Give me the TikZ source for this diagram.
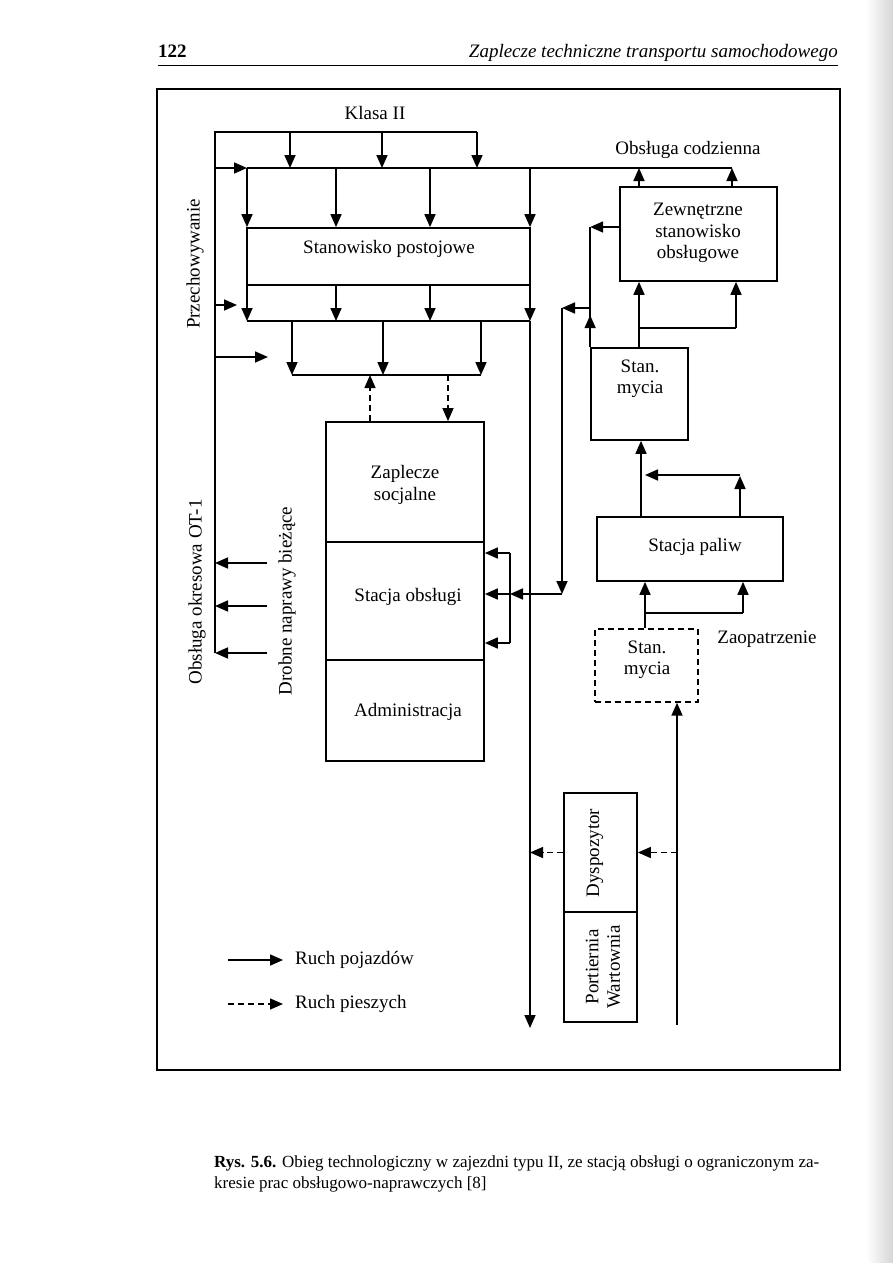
\documentclass[tikz,border=0pt]{standalone}
\usepackage{fontspec}
\setmainfont{Liberation Serif}
\usetikzlibrary{arrows.meta,positioning}

\tikzset{
  ln/.style={line width=1.7pt},
  box/.style={draw, line width=1.7pt, inner sep=0pt},
  dbox/.style={box, line width=1.4pt, dash pattern=on 6pt off 4pt},
  txt/.style={font=\fontsize{19}{21.5}\selectfont, align=center, inner sep=0pt},
  arr/.style={line width=1.7pt, -{Triangle[length=13pt,width=11pt]}},
  darr/.style={arr, line width=1.4pt, dash pattern=on 6pt off 4pt},
}

\begin{document}
\begin{tikzpicture}[x=1pt, y=-1pt]
  \useasboundingbox (0,0) rectangle (893,1263);
  \shade[left color=white, right color=black!16] (866,0) rectangle (893,1263);

  % page head
  \node[txt, anchor=base west, font=\fontsize{19}{21}\selectfont\bfseries] (pnum) at (158,57) {122};
  \node[txt, anchor=base east, font=\fontsize{19}{21}\selectfont\itshape] (ptitle) at (838,57) {Zaplecze techniczne transportu samochodowego};
  \coordinate (headL) at (158,66);
  \draw[line width=1pt] (headL) -- (headL -| ptitle.east);
  \draw[line width=1.8pt] (157,89) rectangle (840,1070);

  % boxes
  \node[box, minimum width=283, minimum height=57] (postoj) at (388.5,256.5) {};
  \node[txt] (postojT) at (389,249) {Stanowisko postojowe};
  \node[box, minimum width=158, minimum height=120] (socj) at (405,482) {};
  \node[txt] (socjT) at (405,485) {Zaplecze\\socjalne};
  \node[box, minimum width=158, minimum height=118] (obsl) at (405,601) {};
  \node[txt] (obslT) at (408,597) {Stacja obsługi};
  \node[box, minimum width=158, minimum height=101] (admin) at (405,710.5) {};
  \node[txt] (adminT) at (408,712) {Administracja};
  \node[box, minimum width=157, minimum height=94] (zewn) at (698.5,234) {};
  \node[txt] (zewnT) at (698,233) {Zewnętrzne\\stanowisko\\obsługowe};
  \node[box, minimum width=97, minimum height=92] (myciaA) at (639.5,394) {};
  \node[txt] (myciaAT) at (640,379) {Stan.\\mycia};
  \node[box, minimum width=186, minimum height=64] (paliw) at (690,549) {};
  \node[txt] (paliwT) at (695,547) {Stacja paliw};
  \node[dbox, minimum width=103, minimum height=73] (myciaB) at (646.5,665.5) {};
  \node[txt] (myciaBT) at (647,660) {Stan.\\mycia};
  \node[box, minimum width=73, minimum height=119] (dysp) at (600.5,852.5) {};
  \node[txt, rotate=90] (dyspT) at (595,853) {Dyspozytor};
  \node[box, minimum width=73, minimum height=110] (port) at (600.5,967) {};
  \node[txt, rotate=90] (portT) at (603,967) {Portiernia\\Wartownia};

  % labels
  \node[txt] (klasa) at (375,113) {Klasa II};
  \node[txt] (codz) at (688,150) {Obsługa codzienna};
  \node[txt] (zaop) at (767,639) {Zaopatrzenie};
  \node[txt, rotate=90] (przech) at (195,264) {Przechowywanie};
  \node[txt, rotate=90] (okres) at (197,592) {Obsługa okresowa OT-1};
  \node[txt, rotate=90] (drobne) at (287,601) {Drobne naprawy bieżące};

  % postoj buses
  \coordinate (lbusT) at (215,132);
  \coordinate (lbusB) at (215,653);
  \coordinate (klasaR) at (477,132);
  \coordinate (busA) at (247,168);
  \coordinate (busAR) at (732,168);
  \coordinate (busB) at (247,321);
  \coordinate (busBR) at (530,321);
  \coordinate (busC) at (292,375);
  \coordinate (busCR) at (481,375);
  \coordinate (inB) at (237,305);
  \coordinate (inC) at (268,357);
  \coordinate (exitV) at (530,1028);
  \draw[ln] (lbusB) -- (lbusT) -- (klasaR);
  \foreach \x in {290,382,477}
    \draw[arr] (\x,0 |- lbusT) -- (\x,0 |- busA);
  \draw[arr] (lbusT |- busA) -- (busA);
  \draw[ln] (busA) -- (busAR);
  \foreach \x in {247,336,430,530} {
    \draw[arr] (\x,0 |- busA) -- (\x,0 |- postoj.north);
    \draw[arr] (\x,0 |- postoj.south) -- (\x,0 |- busB);
  }
  \draw[ln] (busB) -- (busBR);
  \draw[arr] (lbusT |- inB) -- (inB);
  \draw[arr] (lbusT |- inC) -- (inC);
  \foreach \x in {292,383,481}
    \draw[arr] (\x,0 |- busB) -- (\x,0 |- busC);
  \draw[ln] (busC) -- (busCR);
  \draw[arr] (busBR) -- (exitV);

  % pedestrians to socj
  \draw[darr] ([xshift=-35pt]socj.north) -- ([xshift=-35pt]socj.north |- busC);
  \draw[darr] ([xshift=43pt]socj.north |- busC) -- ([xshift=43pt]socj.north);

  % out of the left bus
  \foreach \y [count=\i] in {563,606,653} {
    \coordinate (dro\i) at (267,\y);
    \draw[arr] (dro\i) -- (dro\i -| lbusB);
  }

  % zewn and myciaA
  \coordinate (jct) at (591,308);
  \coordinate (sideT) at (562,308);
  \coordinate (sideB) at (562,594);
  \coordinate (brT) at (510,553);
  \coordinate (brB) at (510,643);
  \coordinate (splitA) at (639,328);
  \coordinate (splitA2) at (736,328);
  \draw[arr] (639,0 |- zewn.north) -- (639,0 |- busA);
  \draw[arr] (busAR |- zewn.north) -- (busAR);
  \draw[arr] ([yshift=7pt]zewn.west) -- ([yshift=7pt]zewn.west -| myciaA.north west);
  \draw[ln] ([yshift=7pt]zewn.west -| myciaA.north west) -- (myciaA.north west);
  \draw[arr] (myciaA.north west) -- ++(0,-32);
  \draw[arr] (jct) -- (sideT);
  \draw[arr] (sideT) -- (sideB);
  \draw[arr] (sideB) -- (brT |- sideB);
  \draw[ln] (brT) -- (brB);
  \draw[arr] (brT) -- (brT -| obsl.east);
  \draw[arr] (brT |- sideB) -- (sideB -| obsl.east);
  \draw[arr] (brB) -- (brB -| obsl.east);
  \draw[ln] (splitA |- myciaA.north) -- (splitA) -- (splitA2);
  \draw[arr] (splitA) -- (splitA |- zewn.south);
  \draw[arr] (splitA2) -- (splitA2 |- zewn.south);

  % paliw
  \coordinate (retP) at (740,475);
  \coordinate (retPL) at (645,475);
  \coordinate (splitB) at (645,613);
  \coordinate (splitB2) at (743,613);
  \draw[arr] (641,0 |- paliw.north) -- (641,0 |- myciaA.south);
  \draw[arr] (retP |- paliw.north) -- ([yshift=-1pt]retP);
  \draw[arr] (retP) -- (retPL);
  \draw[ln] (splitB |- myciaB.north) -- (splitB) -- (splitB2);
  \draw[arr] (splitB) -- (splitB |- paliw.south);
  \draw[arr] (splitB2) -- (splitB2 |- paliw.south);

  % entry and dyspozytor
  \coordinate (entryB) at (677,1025);
  \draw[arr] (entryB) -- (entryB |- myciaB.south);
  \draw[darr] (entryB |- dysp.east) -- (dysp.east);
  \draw[darr] (dysp.west) -- (dysp.west -| exitV);

  % legend
  \node[txt, anchor=west] (leg1) at (295,960) {Ruch pojazdów};
  \node[txt, anchor=west] (leg2) at (295,1004) {Ruch pieszych};
  \draw[arr] ([xshift=-67pt]leg1.west) -- ([xshift=-12pt]leg1.west);
  \draw[darr] ([xshift=-67pt]leg2.west) -- ([xshift=-12pt]leg2.west);

  % caption
  \node[txt, anchor=base west, font=\fontsize{17}{20}\selectfont] (capt1) at (214,1167) {\textbf{Rys. 5.6.} Obieg technologiczny w zajezdni typu II, ze stacją obsługi o ograniczonym za-};
  \node[txt, anchor=base west, font=\fontsize{17}{20}\selectfont] (capt2) at (214,1188) {kresie prac obsługowo-naprawczych [8]};
\end{tikzpicture}
\end{document}
